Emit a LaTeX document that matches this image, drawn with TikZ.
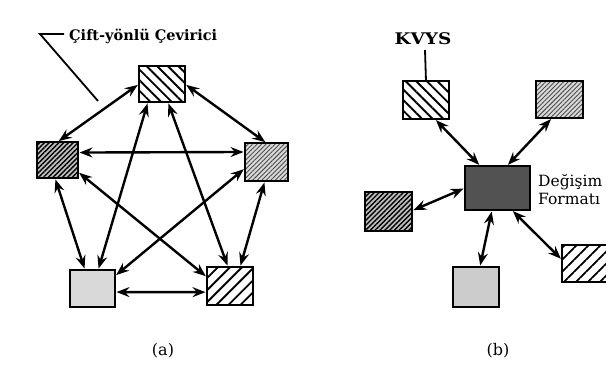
\documentclass[tikz,border=0pt]{standalone}
\usepackage{fontspec}
\setmainfont{DejaVu Serif}
\usetikzlibrary{arrows.meta,patterns.meta}

\tikzset{
  unit/.style={draw=black, line width=2.1pt, minimum width=46pt, minimum height=37pt,
    inner sep=0pt, outer sep=0pt},
  widebs/.style={unit, pattern={Lines[angle=-45,distance=7.5pt,line width=1.9pt]}},
  widefs/.style={unit, pattern={Lines[angle=45,distance=8.5pt,line width=1.8pt]}},
  finefs/.style={unit, preaction={fill=gray!30},
    pattern={Lines[angle=45,distance=3.2pt,line width=0.9pt]}, pattern color=black!70},
  densefs/.style={unit, preaction={fill=gray!50},
    pattern={Lines[angle=45,distance=3.4pt,line width=1.4pt]}},
  light/.style={unit, fill=gray!30},
  darkbox/.style={unit, fill=black!68},
  link/.style={line width=2.4pt, shorten <=1.5pt, shorten >=1.5pt,
    {Stealth[length=13pt,width=10pt,inset=4.5pt]}-{Stealth[length=13pt,width=10pt,inset=4.5pt]}},
  tag/.style={inner sep=0pt},
  leader/.style={line width=1.8pt}
}

\begin{document}
\begin{tikzpicture}[x=1pt, y=-1pt]
\useasboundingbox (0,0) rectangle (606,365);
\clip (0,0) rectangle (606,365);

% ---------- (a) five converters, all pairs linked ----------
\node[widebs, minimum width=46pt, minimum height=36pt] (aT)  at (162,84) {};
\node[densefs, minimum width=41pt, minimum height=36pt] (aL)  at (57.5,160) {};
\node[finefs, minimum width=43pt, minimum height=38pt] (aR)  at (266.5,162) {};
\node[light, minimum width=45pt, minimum height=37pt] (aBL) at (92.5,288.5) {};
\node[widefs, minimum width=46pt, minimum height=38pt] (aBR) at (230,286) {};

\draw[link] (aT.west) -- (aL.north);
\draw[link] (aT.east) -- (aR.north);
\draw[link] (aL.20) -- (aR.155);
\draw[link] (aT.232) -- (aBL.73);
\draw[link] (aT.288) -- (aBR.96);
\draw[link] (aL.262) -- (aBL.112);
\draw[link] (aR.265) -- (aBR.62);
\draw[link] (aL.330) -- (aBR.159);
\draw[link] (aR.196) -- (aBL.29);
\draw[link] (aBL.351) -- (aBR.195);

\node[tag, font=\fontsize{14.5}{17}\selectfont\bfseries, anchor=base west] (conv) at (69,40) {Çift-yönlü Çevirici};
\coordinate (cstart) at (64,34);
\coordinate (bend) at (40,34);
\coordinate (tip) at (98,101);
\draw[leader] (cstart) -- (bend) -- (tip);

\node[tag, font=\fontsize{16}{19}\selectfont] (capa) at (163,351) {(a)};

% ---------- (b) star around the exchange format ----------
\node[darkbox, minimum width=65pt, minimum height=44pt] (bc) at (497.5,188) {};
\node[widebs, minimum width=46pt, minimum height=38pt] (b1) at (426,100) {};
\node[finefs, minimum width=47pt, minimum height=37pt] (b2) at (559.5,99.5) {};
\node[densefs, minimum width=47pt, minimum height=39pt] (b3) at (388.5,211.5) {};
\node[light, fill=gray!40, minimum width=46pt, minimum height=40pt] (b4) at (476,287) {};
\node[widefs, minimum width=46pt, minimum height=37pt] (b5) at (585,263.5) {};

\draw[link] (b1.295) -- (bc.128);
\draw[link] (b2.248) -- (bc.67);
\draw[link] (b3.2) -- (bc.180);
\draw[link] (bc.256) -- (b4.79);
\draw[link] (bc.303) -- (b5.171);

\node[tag, font=\fontsize{16}{19}\selectfont\bfseries, anchor=base, xscale=1.15] (kvys) at (423,44) {KVYS};
\coordinate (kfoot) at (425,50);
\draw[leader] (kfoot) -- (b1.north);

\node[tag, anchor=base west, font=\fontsize{15.5}{19}\selectfont] (fmt1) at (538,186) {Değişim};
\node[tag, anchor=base west, font=\fontsize{15.5}{19}\selectfont] (fmt2) at (538,204) {Formatı};

\node[tag, font=\fontsize{16}{19}\selectfont] (capb) at (498,351) {(b)};
\end{tikzpicture}
\end{document}
